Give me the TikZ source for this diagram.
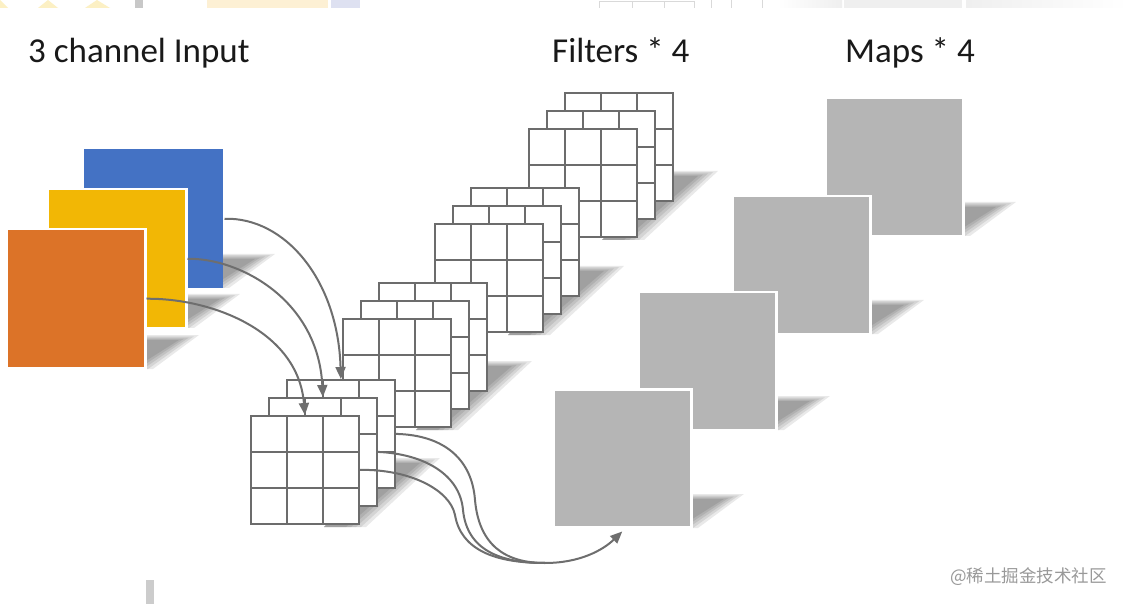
\documentclass[tikz,border=0pt]{standalone}
\usepackage{fontspec}
\setmainfont{Carlito}
\newfontfamily\cjkfont{Noto Sans CJK SC}
\usetikzlibrary{arrows.meta,calc}
\definecolor{cblue}{HTML}{4472C4}
\definecolor{cyellow}{HTML}{F2B705}
\definecolor{corange}{HTML}{DC7328}
\definecolor{cmap}{HTML}{B5B5B5}
\definecolor{cline}{HTML}{6C6C6C}
\definecolor{carrow}{HTML}{6E6E6E}
\definecolor{artY}{HTML}{FCF0C4}
\definecolor{artY2}{HTML}{FDF0D4}
\definecolor{artL}{HTML}{DEE1F1}
\definecolor{artG}{HTML}{C8C8C8}
\definecolor{artG2}{HTML}{EFEFEF}
\tikzset{
 x=1pt, y=1pt,
 chan/.style={minimum size=139pt, inner sep=0pt, draw=white, line width=2.5pt, anchor=north west},
 fmap/.style={fill=cmap, minimum size=138pt, inner sep=0pt, draw=white, line width=2.5pt, anchor=north west},
 kern/.style={fill=white, draw=cline, line width=1.8pt, minimum size=108pt, inner sep=0pt, anchor=north west,
   path picture={
    \foreach \k in {1,2}{
     \draw[cline,line width=1.8pt] ($(path picture bounding box.north west)!\k/3!(path picture bounding box.north east)$) -- ($(path picture bounding box.south west)!\k/3!(path picture bounding box.south east)$);
     \draw[cline,line width=1.8pt] ($(path picture bounding box.north west)!\k/3!(path picture bounding box.south west)$) -- ($(path picture bounding box.north east)!\k/3!(path picture bounding box.south east)$);
    }}},
 conn/.style={draw=carrow, line width=2pt},
 tip/.style={-{Triangle[length=12pt,width=10pt]}},
 lbl/.style={font=\fontsize{35}{40}\selectfont, anchor=base west, inner sep=0pt, text=black!90},
 shadowfill/.style={fill=black, opacity=0.085},
}
% soft shadow of a square: bottom-right corner (pixel coords)
\newcommand\sqshadow[2]{%
 \foreach \d in {0,5,10,15,20}{%
  \fill[shadowfill] (#1-15,-#2-1) -- (#1+8-\d,-#2-1) -- (#1+54-\d,-#2+33-0.25*\d) -- (#1-15,-#2+33-0.25*\d) -- cycle;}}
% soft shadow of a kernel stack: bottom-right corner of the back grid
\newcommand\kshadow[2]{%
 \foreach \d in {0,5,10,15,20}{%
  \fill[shadowfill] (#1-70,-#2-40) -- (#1-28-\d,-#2-40) -- (#1+46-\d,-#2+29-0.25*\d) -- (#1-10,-#2+29-0.25*\d) -- cycle;}}
% kernel group: front grid top-left (pixel), name prefix
\newcommand\kgroup[3]{%
 \pgfmathsetmacro\kxr{#1+144}%
 \pgfmathsetmacro\kyb{#2+72}%
 \kshadow{\kxr}{\kyb}
 \node[kern] (#3back) at (#1+36,-#2+36) {};
 \node[kern] (#3mid) at (#1+18,-#2+18) {};
 \node[kern] (#3front) at (#1,-#2) {};
}
\begin{document}
\begin{tikzpicture}
\useasboundingbox (0,0) rectangle (1128,-604);
\fill[white] (0,0) rectangle (1128,-604);
% cropped remnants along the top edge and bottom
\fill[artY] (0,-8) -- (0,0) -- (8,-8) -- cycle;
\fill[artY] (38,-8) -- (48,0) -- (58,-8) -- cycle;
\fill[artY] (85,-8) -- (97,0) -- (110,-8) -- cycle;
\fill[artG] (135,0) rectangle (143,-8);
\fill[artY2] (207,0) rectangle (328,-8);
\fill[artL] (331,0) rectangle (360,-8);
\draw[black!15, line width=1pt] (599,-8) -- (599,-2) -- (694,-2) -- (694,-8) (632,-2) -- (632,-8) (664,-2) -- (664,-8) (711,0) -- (711,-8) (731,0) -- (731,-8) (762,0) -- (762,-8);
\shade[left color=white, right color=artG2] (777,0) rectangle (842,-8);
\fill[artG2] (844,0) rectangle (962,-8);
\shade[left color=artG2, right color=white] (966,0) rectangle (1128,-8);
\fill[black!20] (146,-580) rectangle (154,-604);

% titles
\node[lbl] (tin) at (28,-63) {3 channel Input};
\node[lbl] (tfil) at (552,-63) {Filters * 4};
\node[lbl] (tmap) at (845,-63) {Maps * 4};

% input channels
\sqshadow{221}{287}
\node[chan, fill=cblue, draw=none] (blueIn) at (83,-148) {};
\sqshadow{186}{327}
\node[chan, fill=cyellow] (yellowIn) at (46,-188) {};
\sqshadow{145}{368}
\node[chan, fill=corange] (orangeIn) at (5,-228) {};

% filters (back to front)
\kgroup{528}{128}{gfour}
\kgroup{434}{223}{gthree}
\kgroup{342}{318}{gtwo}
\kgroup{250}{415}{gone}

% maps
\sqshadow{962}{235}
\node[fmap] (m4) at (824,-97) {};
\sqshadow{870}{333}
\node[fmap] (m3) at (731,-195) {};
\sqshadow{776}{429}
\node[fmap] (m2) at (637,-291) {};
\sqshadow{690}{527}
\node[fmap] (m1) at (552,-388) {};

% arrows from channels to kernels
\draw[conn,tip] (blueIn.east) .. controls (285,-217) and (338,-280) .. (goneback.north);
\draw[conn,tip] (yellowIn.east) .. controls (240,-258) and (318,-300) .. (gonemid.north);
\draw[conn,tip] (orangeIn.east) .. controls (210,-298) and (298,-330) .. (gonefront.north);

% arrows from kernels to the first map
\coordinate (merge) at (545,-563);
\draw[conn] (goneback.east) .. controls (445,-435) and (472,-460) .. (475,-500) .. controls (479,-545) and (505,-563) .. (merge);
\draw[conn] (gonemid.east) .. controls (425,-454) and (460,-475) .. (463,-510) .. controls (467,-550) and (500,-563) .. (merge);
\draw[conn] (gonefront.east) .. controls (410,-469) and (450,-490) .. (455,-515) .. controls (461,-550) and (495,-563) .. (merge);
\draw[conn,tip] (merge) .. controls (580,-563) and (603,-550) .. ($(m1.south)+(0,-3)$);

% watermark
\node[font=\cjkfont\fontsize{17.5}{20}\selectfont, text=black!40, anchor=base west, inner sep=0pt] (wm) at (950,-582) {@稀土掘金技术社区};
\end{tikzpicture}
\end{document}
